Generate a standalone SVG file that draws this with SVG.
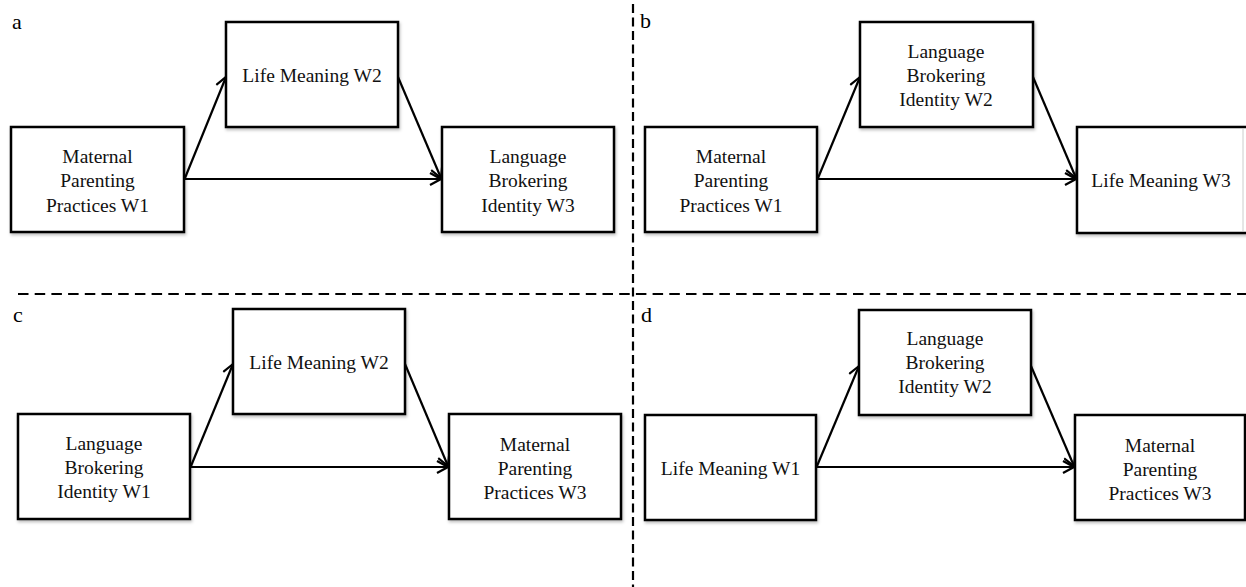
<svg xmlns="http://www.w3.org/2000/svg" width="1246" height="587" viewBox="0 0 1246 587">
<style>
  .box { fill: #ffffff; stroke: #000000; stroke-width: 2.5; filter: url(#sh); }
  .t { font-family: "Liberation Serif", "Times New Roman", serif; font-size: 19.5px; fill: #111111; text-anchor: middle; }
  .lbl { font-family: "Liberation Serif", "Times New Roman", serif; font-size: 22px; fill: #000000; }
  .arr { stroke: #000000; stroke-width: 2.2; fill: none; marker-end: url(#ah); }
  .dash { stroke: #000000; stroke-width: 2.2; fill: none; }
</style>
<defs>
  <filter id="sh" x="-10%" y="-10%" width="125%" height="130%">
    <feDropShadow dx="1" dy="2" stdDeviation="1.5" flood-color="#000000" flood-opacity="0.25"/>
  </filter>
  <marker id="ah" markerUnits="userSpaceOnUse" markerWidth="14" markerHeight="14" viewBox="0 0 14 14" refX="12" refY="7" orient="auto">
    <path d="M1,1 L12,7 L1,13" fill="none" stroke="#000000" stroke-width="2.2"/>
  </marker>
</defs>
<rect x="0" y="0" width="1246" height="587" fill="#ffffff"/>

<g id="dividers">
  <line class="dash" x1="633" y1="4" x2="633" y2="587" stroke-dasharray="9 4.5"/>
  <line class="dash" x1="18" y1="294" x2="1246" y2="294" stroke-dasharray="10.5 6.2"/>
</g>

<g id="panel-labels">
  <text class="lbl" x="12" y="29">a</text>
  <text class="lbl" x="640" y="28">b</text>
  <text class="lbl" x="13" y="322">c</text>
  <text class="lbl" x="641" y="322">d</text>
</g>

<g id="connectors">
  <line class="arr" x1="184" y1="179" x2="441" y2="179"/>
  <line class="arr" x1="185" y1="178" x2="226" y2="77"/>
  <line class="arr" x1="398" y1="77" x2="441" y2="178"/>

  <line class="arr" x1="817" y1="179" x2="1076" y2="179"/>
  <line class="arr" x1="818" y1="178" x2="860" y2="77"/>
  <line class="arr" x1="1033" y1="77" x2="1076" y2="178"/>

  <line class="arr" x1="190" y1="467" x2="448" y2="467"/>
  <line class="arr" x1="191" y1="466" x2="233" y2="364"/>
  <line class="arr" x1="405" y1="364" x2="448" y2="466"/>

  <line class="arr" x1="816" y1="467" x2="1074" y2="467"/>
  <line class="arr" x1="817" y1="466" x2="859" y2="366"/>
  <line class="arr" x1="1031" y1="366" x2="1074" y2="466"/>
</g>

<!-- Panel a -->
<g id="a-maternal-w1">
  <rect class="box" x="11" y="127" width="173" height="105"/>
  <text class="t" x="97.5" y="163">Maternal</text>
  <text class="t" x="97.5" y="187">Parenting</text>
  <text class="t" x="97.5" y="212">Practices W1</text>
</g>
<g id="a-life-w2">
  <rect class="box" x="226" y="22" width="172" height="105"/>
  <text class="t" x="312" y="82">Life Meaning W2</text>
</g>
<g id="a-lbi-w3">
  <rect class="box" x="442" y="127" width="172" height="105"/>
  <text class="t" x="528" y="163">Language</text>
  <text class="t" x="528" y="187">Brokering</text>
  <text class="t" x="528" y="212">Identity W3</text>
</g>

<!-- Panel b -->
<g id="b-maternal-w1">
  <rect class="box" x="645" y="127" width="172" height="105"/>
  <text class="t" x="731" y="163">Maternal</text>
  <text class="t" x="731" y="187">Parenting</text>
  <text class="t" x="731" y="212">Practices W1</text>
</g>
<g id="b-lbi-w2">
  <rect class="box" x="860" y="22" width="173" height="105"/>
  <text class="t" x="946" y="58">Language</text>
  <text class="t" x="946" y="82">Brokering</text>
  <text class="t" x="946" y="106">Identity W2</text>
</g>
<g id="b-life-w3">
  <rect class="box" x="1077" y="127" width="173" height="106"/>
  <line x1="1243" y1="129" x2="1243" y2="231" stroke="#cccccc" stroke-width="1"/>
  <text class="t" x="1161" y="187">Life Meaning W3</text>
</g>

<!-- Panel c -->
<g id="c-lbi-w1">
  <rect class="box" x="18" y="414" width="172" height="105"/>
  <text class="t" x="104" y="450">Language</text>
  <text class="t" x="104" y="474">Brokering</text>
  <text class="t" x="104" y="498">Identity W1</text>
</g>
<g id="c-life-w2">
  <rect class="box" x="233" y="309" width="172" height="105"/>
  <text class="t" x="319" y="369">Life Meaning W2</text>
</g>
<g id="c-maternal-w3">
  <rect class="box" x="449" y="414" width="172" height="105"/>
  <text class="t" x="535" y="451">Maternal</text>
  <text class="t" x="535" y="475">Parenting</text>
  <text class="t" x="535" y="499">Practices W3</text>
</g>

<!-- Panel d -->
<g id="d-life-w1">
  <rect class="box" x="645" y="415" width="171" height="105"/>
  <text class="t" x="730.5" y="475">Life Meaning W1</text>
</g>
<g id="d-lbi-w2">
  <rect class="box" x="859" y="310" width="172" height="105"/>
  <text class="t" x="945" y="345">Language</text>
  <text class="t" x="945" y="369">Brokering</text>
  <text class="t" x="945" y="393">Identity W2</text>
</g>
<g id="d-maternal-w3">
  <rect class="box" x="1075" y="415" width="170" height="105"/>
  <text class="t" x="1160" y="452">Maternal</text>
  <text class="t" x="1160" y="476">Parenting</text>
  <text class="t" x="1160" y="500">Practices W3</text>
</g>
</svg>
